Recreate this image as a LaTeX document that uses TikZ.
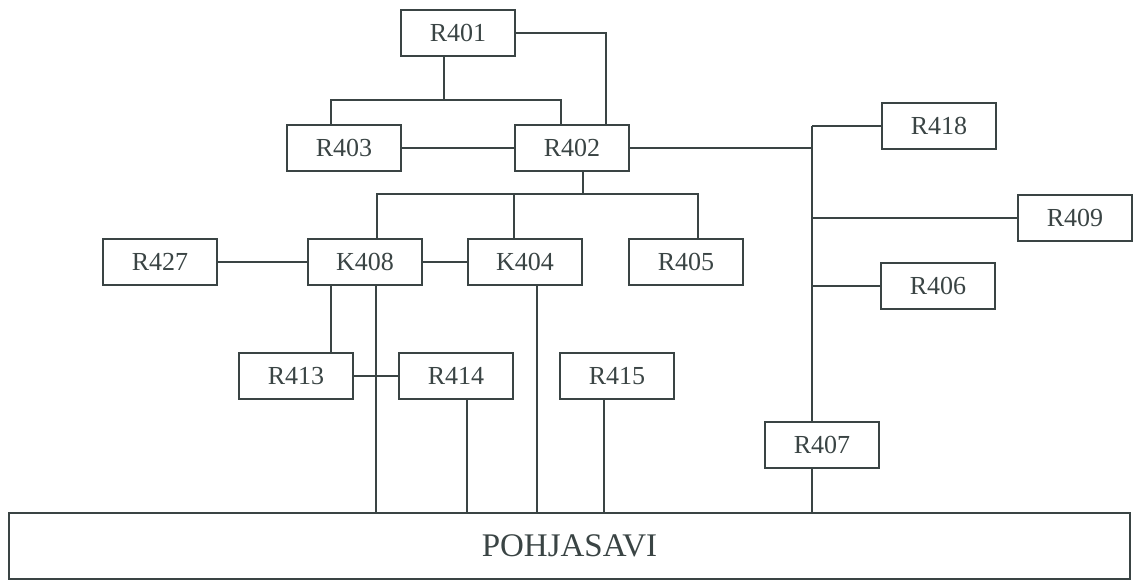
\documentclass[tikz,border=0pt]{standalone}
\usepackage{fontspec}
\setmainfont{Liberation Serif}
\definecolor{ink}{RGB}{58,68,68}

\begin{document}
\begin{tikzpicture}[
  x=0.5pt, y=-0.5pt,
  line width=1pt, draw=ink,
  every node/.style={rectangle, draw=ink, text=ink, inner sep=0pt,
    minimum width=57pt, minimum height=23pt, font=\fontsize{13}{15}\selectfont}
]
\useasboundingbox (0,0) rectangle (1133,581);

\node (R401) at (458,33) {R401};
\node (R403) at (344,148) {R403};
\node (R402) at (572,148) {R402};
\node (R418) at (939,126) {R418};
\node (R409) at (1075,218) {R409};
\node (R427) at (160,262) {R427};
\node (K408) at (365,262) {K408};
\node (K404) at (525,262) {K404};
\node (R405) at (686,262) {R405};
\node (R406) at (938,286) {R406};
\node (R413) at (296,376) {R413};
\node (R414) at (456,376) {R414};
\node (R415) at (617,376) {R415};
\node (R407) at (822,445) {R407};
\node[minimum width=560.5pt, minimum height=33pt, font=\fontsize{16.5}{18}\selectfont]
  (POHJ) at (569.5,546) {POHJASAVI};

% top part
\coordinate (a0) at (444,100);
\coordinate (a1) at (331,100);
\coordinate (a2) at (561,100);
\coordinate (b1) at (606,33);
\draw (R401.south -| a0) -- (a0);
\draw (R403.north -| a1) -- (a1) -- (a2) -- (R402.north -| a2);
\draw (R401.east) -- (b1) -- (R402.north -| b1);
\draw (R403) -- (R402);

% right bus
\coordinate (bt) at (812,126);
\draw (R402.east) -- (R402.east -| bt);
\draw (bt) -- (R407.north -| bt);
\draw (bt) -- (R418.west);
\draw (R409.west -| bt) -- (R409.west);
\draw (R406.west -| bt) -- (R406.west);
\draw (R407.south -| bt) -- (POHJ.north -| bt);

% middle row
\coordinate (c0) at (583,194);
\coordinate (c1) at (377,194);
\coordinate (c2) at (514,194);
\coordinate (c3) at (698,194);
\draw (R402.south -| c0) -- (c0);
\draw (K408.north -| c1) -- (c1) -- (c3) -- (R405.north -| c3);
\draw (c2) -- (K404.north -| c2);
\draw (R427) -- (K408);
\draw (K408) -- (K404);

% down to POHJASAVI
\coordinate (d1) at (331,0);
\coordinate (d2) at (376,0);
\coordinate (d3) at (537,0);
\coordinate (d4) at (467,0);
\coordinate (d5) at (604,0);
\draw (K408.south -| d1) -- (R413.north -| d1);
\draw (K408.south -| d2) -- (POHJ.north -| d2);
\draw (R413) -- (R414);
\draw (K404.south -| d3) -- (POHJ.north -| d3);
\draw (R414.south -| d4) -- (POHJ.north -| d4);
\draw (R415.south -| d5) -- (POHJ.north -| d5);
\end{tikzpicture}
\end{document}
